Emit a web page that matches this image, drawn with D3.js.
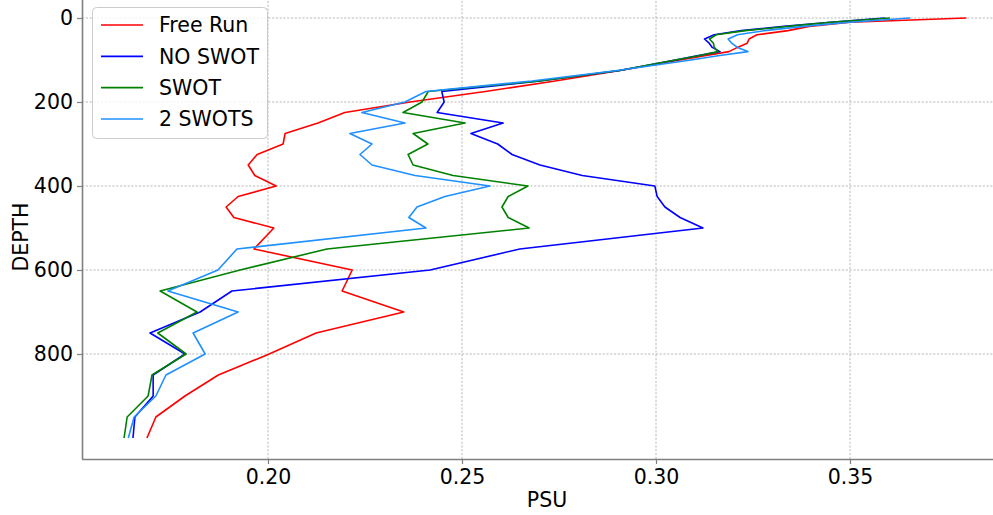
<!DOCTYPE html>
<html>
<head>
<meta charset="utf-8">
<script src="https://cdn.jsdelivr.net/npm/d3@7"></script>
<style>
  html, body { margin: 0; padding: 0; background: #fff; }
  svg { display: block; font-family: "DejaVu Sans", sans-serif; }
</style>
</head>
<body>
<svg id="chart" width="993" height="515"></svg>
<script>
// Depth levels (m) shared by every profile
const depths = [0, 10, 20, 30, 40, 50, 60, 70, 80, 90, 100, 125, 150, 175,
  200, 225, 250, 275, 300, 325, 350, 375, 400, 425, 450, 475, 500,
  550, 600, 650, 700, 750, 800, 850, 900, 950, 1000];

// Salinity-error profiles (PSU) for each experiment
const freeRun = [0.380, 0.350, 0.3395, 0.334, 0.326, 0.324, 0.3235, 0.321, 0.3188, 0.3126, 0.3062, 0.2907, 0.274, 0.256,
  0.2366, 0.2198, 0.2129, 0.2044, 0.2039, 0.1972, 0.1949, 0.1966, 0.2021, 0.1923, 0.1892, 0.1912, 0.2015,
  0.1964, 0.2217, 0.2191, 0.235, 0.2124, 0.2003, 0.1872, 0.1786, 0.1711, 0.1688];
const noSwot = [0.359, 0.345, 0.333, 0.322, 0.315, 0.3125, 0.3137, 0.3145, 0.3165, 0.3106, 0.305, 0.2907, 0.270, 0.2448,
  0.2454, 0.2436, 0.2606, 0.2523, 0.2592, 0.2629, 0.2701, 0.281, 0.2997, 0.3003, 0.3023, 0.3062, 0.3121,
  0.2649, 0.2418, 0.1907, 0.1825, 0.1696, 0.1786, 0.1704, 0.1704, 0.1657, 0.1652];
const swot = [0.3603, 0.345, 0.334, 0.323, 0.3155, 0.3138, 0.3148, 0.315, 0.316, 0.311, 0.305, 0.2905, 0.270, 0.2413,
  0.2397, 0.2348, 0.2508, 0.2374, 0.2412, 0.2361, 0.2374, 0.2477, 0.267, 0.2619, 0.2603, 0.2619, 0.2673,
  0.2152, 0.1928, 0.1722, 0.1817, 0.1716, 0.1789, 0.1701, 0.1691, 0.1637, 0.1629];
const twoSwots = [0.3655, 0.350, 0.338, 0.328, 0.321, 0.3186, 0.3195, 0.321, 0.3237, 0.316, 0.309, 0.290, 0.268, 0.2407,
  0.2353, 0.2242, 0.2353, 0.2211, 0.2268, 0.2237, 0.2268, 0.2379, 0.2572, 0.2456, 0.2384, 0.2363, 0.2407,
  0.192, 0.1871, 0.1742, 0.1923, 0.1807, 0.1838, 0.1737, 0.1711, 0.1655, 0.164];

const seriesNames = ["Free Run", "NO SWOT", "SWOT", "2 SWOTS"];
const seriesColors = ["#ff0000", "#0000ff", "#008000", "#1e90ff"];
const seriesValues = [freeRun, noSwot, swot, twoSwots];

const xTicks = [0.20, 0.25, 0.30, 0.35];
const yTicks = [0, 200, 400, 600, 800];

// Plot frame
const plot = { left: 82, right: 993, top: -3, bottom: 459 };
const fontSize = 20.5;

const x = d3.scaleLinear().domain([0.20, 0.35]).range([268, 850]);
const y = d3.scaleLinear().domain([0, 800]).range([18, 354]);

const svg = d3.select("#chart");

svg.append("defs").append("clipPath").attr("id", "plotClip")
  .append("rect")
  .attr("x", plot.left).attr("y", plot.top)
  .attr("width", plot.right - plot.left).attr("height", plot.bottom - plot.top);

// Grid
const grid = svg.append("g").attr("stroke", "#a8a8a8").attr("stroke-width", 0.8)
  .attr("stroke-dasharray", "2.2,1.6");
grid.selectAll("line.gx").data(xTicks).join("line").attr("class", "gx")
  .attr("x1", d => x(d)).attr("x2", d => x(d))
  .attr("y1", plot.top).attr("y2", plot.bottom);
grid.selectAll("line.gy").data(yTicks).join("line").attr("class", "gy")
  .attr("x1", plot.left).attr("x2", plot.right)
  .attr("y1", d => y(d)).attr("y2", d => y(d));

// Profiles
const line = d3.line().x(d => x(d[0])).y(d => y(d[1]));
const lines = svg.append("g").attr("clip-path", "url(#plotClip)");
seriesValues.forEach((vals, i) => {
  lines.append("path")
    .datum(vals.map((v, k) => [v, depths[k]]))
    .attr("d", line)
    .attr("fill", "none")
    .attr("stroke", seriesColors[i])
    .attr("stroke-width", 1.6)
    .attr("stroke-linejoin", "round");
});

// Axes
const xAxis = svg.append("g")
  .attr("transform", `translate(0,${plot.bottom})`)
  .call(d3.axisBottom(x).tickValues(xTicks).tickFormat(d3.format(".2f"))
    .tickSize(5).tickPadding(5).tickSizeOuter(0));
const yAxis = svg.append("g")
  .attr("transform", `translate(${plot.left},0)`)
  .call(d3.axisLeft(y).tickValues(yTicks).tickFormat(d3.format("d"))
    .tickSize(5).tickPadding(4).tickSizeOuter(0));

xAxis.select(".domain").attr("d", `M${plot.left},0.5H${plot.right}`);
yAxis.select(".domain").attr("d", `M0.5,${plot.top}V${plot.bottom}`);

[xAxis, yAxis].forEach(a => {
  a.attr("font-family", "DejaVu Sans, sans-serif").attr("font-size", fontSize);
  a.selectAll(".domain").attr("stroke", "#808080").attr("stroke-width", 1.6);
  a.selectAll(".tick line").attr("stroke", "#808080").attr("stroke-width", 1.2);
  a.selectAll(".tick text").attr("fill", "#000");
});

// Axis titles
svg.append("text")
  .attr("x", 547).attr("y", 507)
  .attr("text-anchor", "middle").attr("font-size", fontSize).attr("fill", "#000")
  .text("PSU");
svg.append("text")
  .attr("transform", "translate(28,237) rotate(-90)")
  .attr("text-anchor", "middle").attr("font-size", fontSize).attr("fill", "#000")
  .text("DEPTH");

// Legend
const legend = svg.append("g");
legend.append("rect")
  .attr("x", 92.5).attr("y", 7.5).attr("width", 175).attr("height", 131)
  .attr("rx", 4).attr("ry", 4)
  .attr("fill", "#fff").attr("fill-opacity", 0.8)
  .attr("stroke", "#cccccc").attr("stroke-width", 1);
const rowY = d3.scalePoint().domain(seriesNames).range([25, 119]);
seriesNames.forEach((name, i) => {
  const ry = rowY(name);
  legend.append("line")
    .attr("x1", 101).attr("x2", 143).attr("y1", ry).attr("y2", ry)
    .attr("stroke", seriesColors[i]).attr("stroke-width", 1.6);
  legend.append("text")
    .attr("x", 159).attr("y", ry).attr("dy", "0.36em")
    .attr("font-size", fontSize).attr("fill", "#000")
    .text(name);
});
</script>
</body>
</html>
